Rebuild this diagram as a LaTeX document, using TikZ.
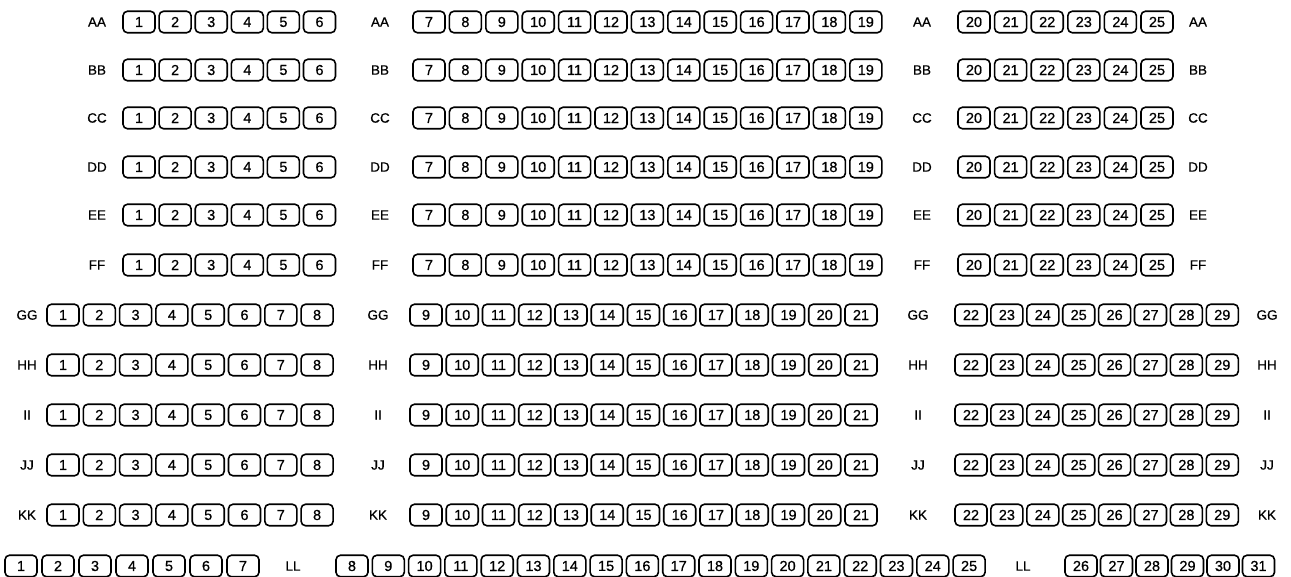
\documentclass[tikz,border=0pt]{standalone}
\usepackage{fontspec}
\setmainfont{Liberation Sans}[FakeBold=0.6]
\begin{document}
\begin{tikzpicture}[x=1pt,y=-1pt,
  seat/.style={draw, line width=1.6pt, rounded corners=4.5pt, minimum width=32pt, minimum height=21.5pt, inner sep=0pt, font=\fontsize{14.5}{15}\selectfont},
  rowlabel/.style={inner sep=0pt, font=\fontsize{13.5}{14}\selectfont}]
\useasboundingbox (0,0) rectangle (1291,577);
% rows AA--FF
\foreach \r/\y in {AA/22,BB/70,CC/118,DD/167,EE/215,FF/265}{
  \node[rowlabel] (\r-l1) at (97,\y) {\r};
  \foreach \n in {1,...,6} \node[seat] (\r-\n) at ({139+(\n-1)*36.1},\y) {\n};
  \node[rowlabel] (\r-l2) at (380,\y) {\r};
  \foreach \n in {7,...,19} \node[seat] (\r-\n) at ({429+(\n-7)*36.4},\y) {\n};
  \node[rowlabel] (\r-l3) at (922,\y) {\r};
  \foreach \n in {20,...,25} \node[seat] (\r-\n) at ({974+(\n-20)*36.6},\y) {\n};
  \node[rowlabel] (\r-l4) at (1198,\y) {\r};
}
% rows GG--KK
\foreach \r/\y in {GG/315,HH/365,II/415,JJ/465,KK/515}{
  \node[rowlabel] (\r-l1) at (27,\y) {\r};
  \foreach \n in {1,...,8} \node[seat] (\r-\n) at ({63+(\n-1)*36.3},\y) {\n};
  \node[rowlabel] (\r-l2) at (378,\y) {\r};
  \foreach \n in {9,...,21} \node[seat] (\r-\n) at ({426+(\n-9)*36.25},\y) {\n};
  \node[rowlabel] (\r-l3) at (918,\y) {\r};
  \foreach \n in {22,...,29} \node[seat] (\r-\n) at ({971+(\n-22)*35.9},\y) {\n};
  \node[rowlabel] (\r-l4) at (1267,\y) {\r};
}
% row LL
\foreach \n in {1,...,7} \node[seat] (LL-\n) at ({21+(\n-1)*37},566) {\n};
\node[rowlabel] (LL-l1) at (293,566) {LL};
\foreach \n in {8,...,25} \node[seat] (LL-\n) at ({352+(\n-8)*36.3},566) {\n};
\node[rowlabel] (LL-l2) at (1023,566) {LL};
\foreach \n in {26,...,31} \node[seat] (LL-\n) at ({1081+(\n-26)*35.5},566) {\n};
\end{tikzpicture}
\end{document}
